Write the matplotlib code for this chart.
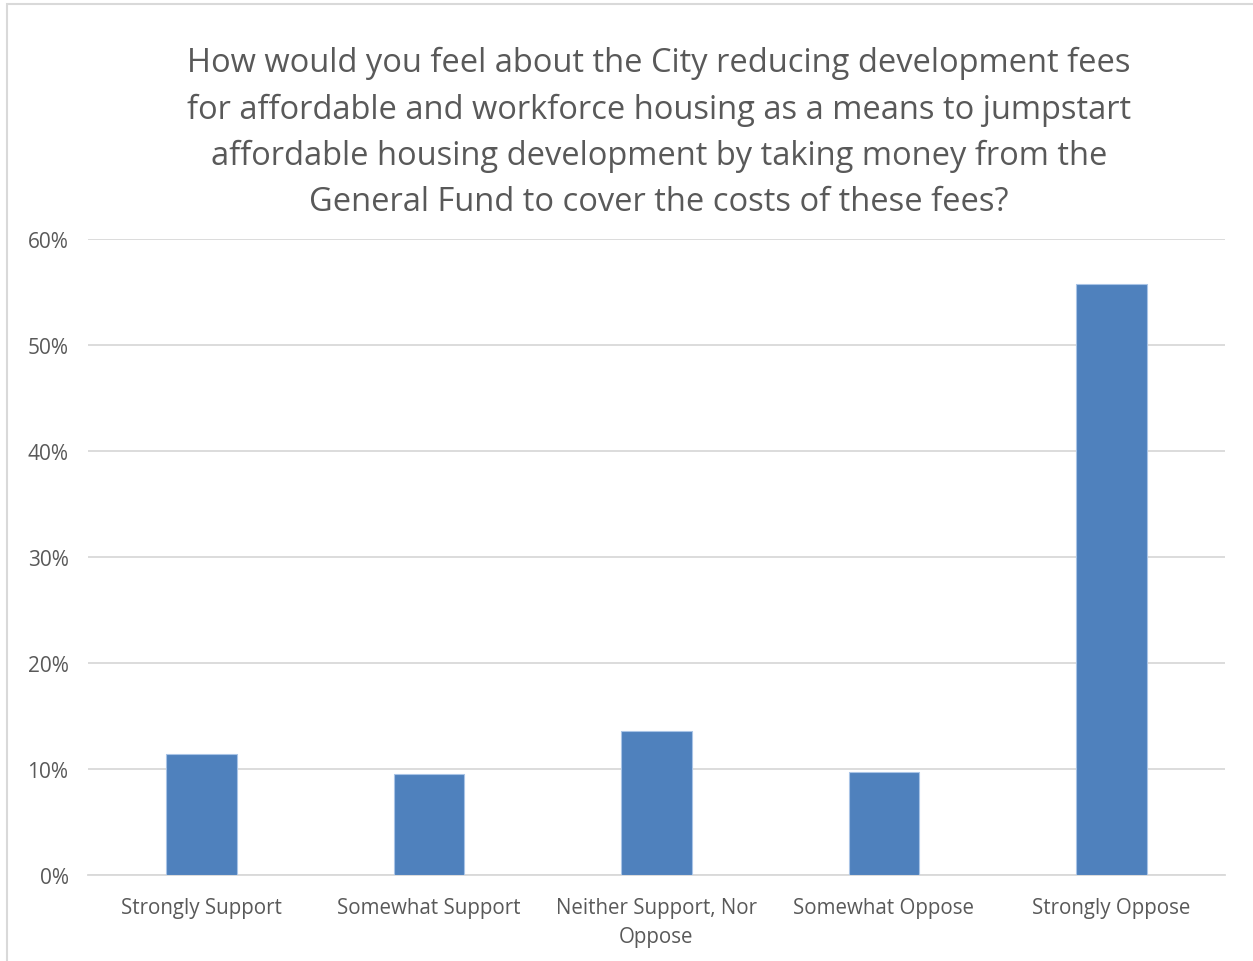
import matplotlib
matplotlib.use("Agg")
import matplotlib.pyplot as plt
from matplotlib.ticker import PercentFormatter, MultipleLocator
from matplotlib.patches import Rectangle

categories = ["Strongly Support", "Somewhat Support", "Neither Support, Nor\nOppose",
              "Somewhat Oppose", "Strongly Oppose"]
shares = [0.114, 0.095, 0.136, 0.097, 0.558]
title = ("How would you feel about the City reducing development fees\n"
         "for affordable and workforce housing as a means to jumpstart\n"
         "affordable housing development by taking money from the\n"
         "General Fund to cover the costs of these fees?")

plt.rcParams['font.family'] = ['Open Sans', 'DejaVu Sans']
text_color = "#595959"
grid_color = "#d9d9d9"
bar_color = "#4f81bd"

W, H = 1253, 962
fig = plt.figure(figsize=(W / 100, H / 100), dpi=100)
ax = fig.add_axes([88 / W, 1 - 876 / H, (1225 - 88) / W, (876 - 240) / H])

x = range(len(categories))
ax.bar(x, shares, width=0.31, color=bar_color, edgecolor="#a9c4e6", linewidth=0.8, zorder=3)

ax.set_xlim(-0.5, len(categories) - 0.5)
ax.set_ylim(0, 0.6)
ax.yaxis.set_major_locator(MultipleLocator(0.1))
ax.yaxis.set_major_formatter(PercentFormatter(1.0, decimals=0))
ax.grid(axis="y", color=grid_color, linewidth=1.3, zorder=0)
ax.set_xticks(list(x))
ax.set_xticklabels(categories, color=text_color, fontsize=14.8, linespacing=1.5)
ax.tick_params(axis="both", length=0, labelcolor=text_color)
ax.tick_params(axis="y", labelsize=15)
ax.tick_params(axis="x", pad=16)
ax.tick_params(axis="y", pad=14)
for side in ["top", "right", "left"]:
    ax.spines[side].set_visible(False)
ax.spines["bottom"].set_color(grid_color)
ax.spines["bottom"].set_linewidth(1.3)

fig.text(659 / W, 1 - 133 / H, title, ha="center", va="center", fontsize=23.5,
         color=text_color, linespacing=1.52)

# chart frame
fig.patches.append(Rectangle((6.5 / W, -0.05), 1.2, 1 - 4.5 / H + 0.05,
                             transform=fig.transFigure, fill=False,
                             edgecolor=grid_color, linewidth=1.5))

fig.savefig("out.png", dpi=100)
